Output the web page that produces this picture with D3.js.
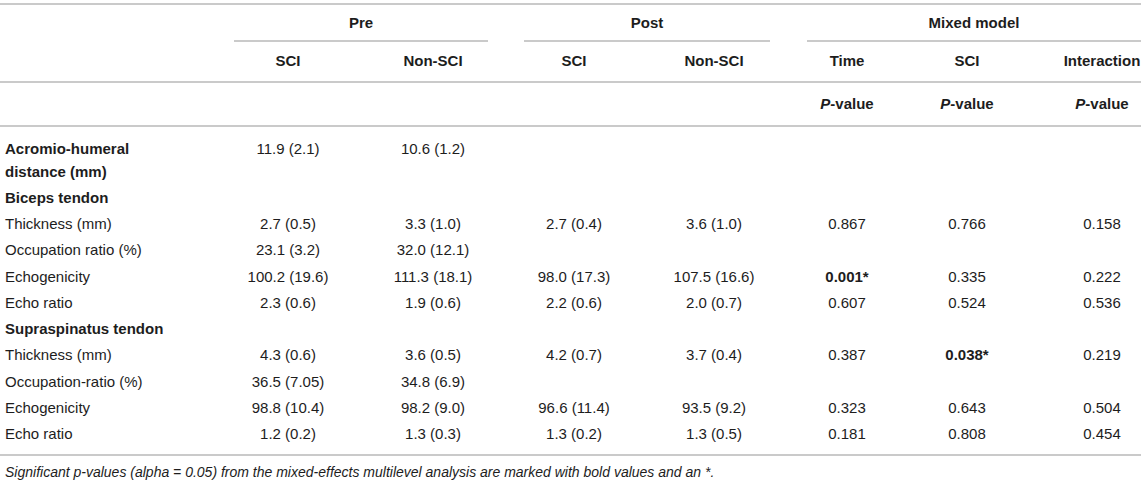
<!DOCTYPE html>
<html lang="en">
<head>
  <meta charset="UTF-8">
  <title>Ultrasound tendon measures table</title>
  <script src="https://d3js.org/d3.v7.min.js"></script>
  <style>
    body { margin: 0; background: #fff; }
    svg text { font-family: "Liberation Sans", Arial, sans-serif; fill: #1d1d1d; }
    .bold { font-weight: bold; }
    .note { font-style: italic; }
  </style>
</head>
<body>
<svg id="tbl" width="1146" height="484"></svg>

<script>
  // Table content
  const groups = ["Pre", "Post", "Mixed model"];
  const columns = ["SCI", "Non-SCI", "SCI", "Non-SCI", "Time", "SCI", "Interaction"];
  const subHeader = ["", "", "", "", "P-value", "P-value", "P-value"];

  const rowLabels = [
    ["Acromio-humeral", "distance (mm)"],
    ["Biceps tendon"],
    ["Thickness (mm)"],
    ["Occupation ratio (%)"],
    ["Echogenicity"],
    ["Echo ratio"],
    ["Supraspinatus tendon"],
    ["Thickness (mm)"],
    ["Occupation-ratio (%)"],
    ["Echogenicity"],
    ["Echo ratio"]
  ];
  const rowIsHeading = [true, true, false, false, false, false, true, false, false, false, false];

  const preSCI     = ["11.9 (2.1)", "", "2.7 (0.5)", "23.1 (3.2)", "100.2 (19.6)", "2.3 (0.6)", "", "4.3 (0.6)", "36.5 (7.05)", "98.8 (10.4)", "1.2 (0.2)"];
  const preNonSCI  = ["10.6 (1.2)", "", "3.3 (1.0)", "32.0 (12.1)", "111.3 (18.1)", "1.9 (0.6)", "", "3.6 (0.5)", "34.8 (6.9)", "98.2 (9.0)", "1.3 (0.3)"];
  const postSCI    = ["", "", "2.7 (0.4)", "", "98.0 (17.3)", "2.2 (0.6)", "", "4.2 (0.7)", "", "96.6 (11.4)", "1.3 (0.2)"];
  const postNonSCI = ["", "", "3.6 (1.0)", "", "107.5 (16.6)", "2.0 (0.7)", "", "3.7 (0.4)", "", "93.5 (9.2)", "1.3 (0.5)"];
  const pTime      = ["", "", "0.867", "", "0.001*", "0.607", "", "0.387", "", "0.323", "0.181"];
  const pSCI       = ["", "", "0.766", "", "0.335", "0.524", "", "0.038*", "", "0.643", "0.808"];
  const pInter     = ["", "", "0.158", "", "0.222", "0.536", "", "0.219", "", "0.504", "0.454"];

  const footnote = "Significant p-values (alpha = 0.05) from the mixed-effects multilevel analysis are marked with bold values and an *.";

  // Layout
  const fontSize = 15;
  const lineColor = "#b8b8b8";
  const colCenters = [288, 433, 574, 714, 847, 967, 1102];
  const groupSpans = [[234, 488], [524, 770], [807, 1141]];
  const rowY = [149, 198, 224, 250, 277, 303, 329, 355, 382, 408, 434];

  const x = d3.scaleOrdinal().domain(d3.range(columns.length)).range(colCenters);
  const y = d3.scaleOrdinal().domain(d3.range(rowLabels.length)).range(rowY);

  const svg = d3.select("#tbl");

  // Horizontal rules
  const rules = [4, 82, 126, 455];
  svg.selectAll("line.rule")
     .data(rules)
     .join("line")
     .attr("class", "rule")
     .attr("x1", 0).attr("x2", 1141)
     .attr("y1", d => d).attr("y2", d => d)
     .attr("stroke", lineColor)
     .attr("stroke-width", 1.6);

  // Group headers with underline
  svg.selectAll("line.span")
     .data(groupSpans)
     .join("line")
     .attr("class", "span")
     .attr("x1", d => d[0]).attr("x2", d => d[1])
     .attr("y1", 41).attr("y2", 41)
     .attr("stroke", lineColor)
     .attr("stroke-width", 1.6);

  svg.selectAll("text.group")
     .data(groups)
     .join("text")
     .attr("class", "group bold")
     .attr("x", (d, i) => (groupSpans[i][0] + groupSpans[i][1]) / 2)
     .attr("y", 23)
     .attr("dy", "0.35em")
     .attr("text-anchor", "middle")
     .style("font-size", fontSize + "px")
     .text(d => d);

  svg.selectAll("text.colhead")
     .data(columns)
     .join("text")
     .attr("class", "colhead bold")
     .attr("x", (d, i) => x(i))
     .attr("y", 61)
     .attr("dy", "0.35em")
     .attr("text-anchor", "middle")
     .style("font-size", fontSize + "px")
     .text(d => d);

  // "P-value" row with italic P
  const sub = svg.selectAll("text.sub")
     .data(subHeader.map((d, i) => ({ d, i })).filter(o => o.d))
     .join("text")
     .attr("class", "sub bold")
     .attr("x", o => x(o.i))
     .attr("y", 104)
     .attr("dy", "0.35em")
     .attr("text-anchor", "middle")
     .style("font-size", fontSize + "px");
  sub.append("tspan").style("font-style", "italic").text("P");
  sub.append("tspan").text("-value");

  // Row labels (first line centred on the row, extra lines below)
  rowLabels.forEach((lines, r) => {
    const t = svg.append("text")
      .attr("class", rowIsHeading[r] ? "bold" : null)
      .attr("y", y(r))
      .style("font-size", fontSize + "px");
    lines.forEach((ln, k) => {
      t.append("tspan").attr("x", 5).attr("dy", k === 0 ? "0.35em" : "1.5em").text(ln);
    });
  });

  // Cell values
  const valueCols = [preSCI, preNonSCI, postSCI, postNonSCI, pTime, pSCI, pInter];
  const cells = [];
  valueCols.forEach((col, c) => col.forEach((v, r) => { if (v) cells.push({ c, r, v }); }));

  svg.selectAll("text.cell")
     .data(cells)
     .join("text")
     .attr("class", d => d.v.endsWith("*") ? "cell bold" : "cell")
     .attr("x", d => x(d.c))
     .attr("y", d => y(d.r))
     .attr("dy", "0.35em")
     .attr("text-anchor", "middle")
     .style("font-size", fontSize + "px")
     .text(d => d.v);

  svg.append("text")
     .attr("class", "note")
     .attr("x", 5)
     .attr("y", 472)
     .attr("dy", "0.35em")
     .style("font-size", "14px")
     .text(footnote);
</script>
</body>
</html>
